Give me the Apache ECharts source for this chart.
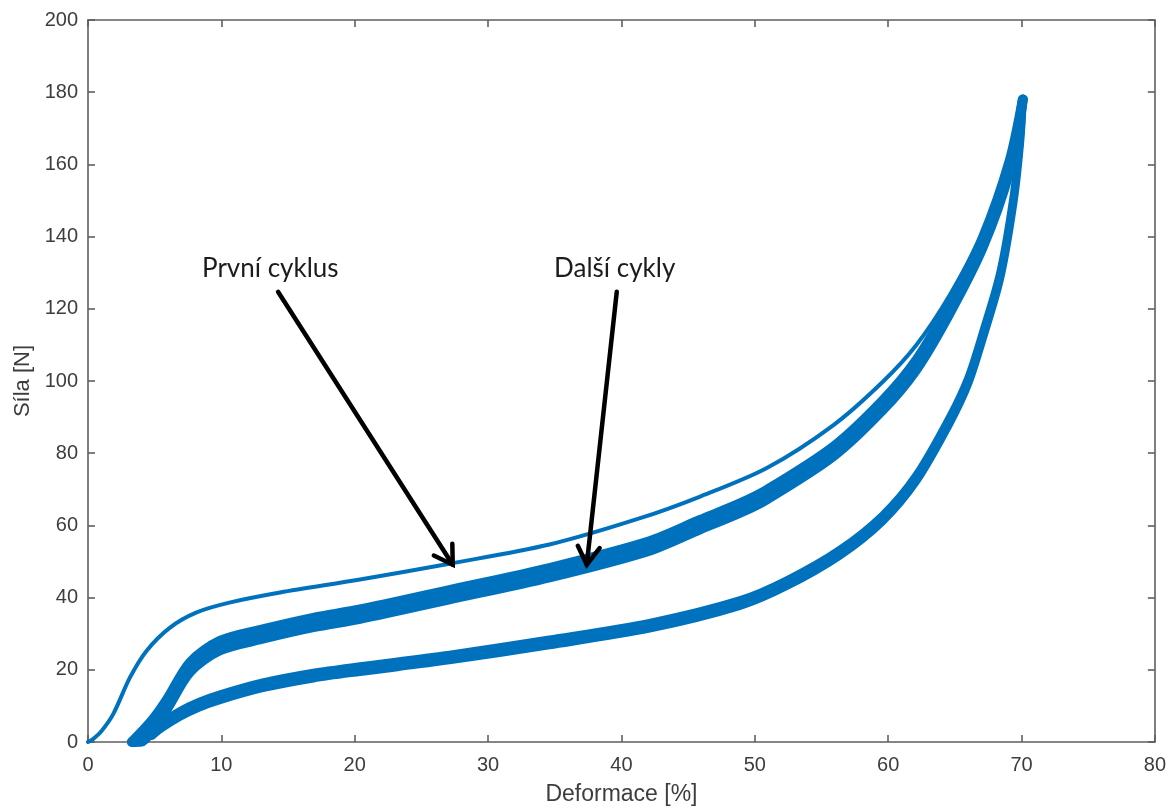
<!DOCTYPE html>
<html>
<head>
<meta charset="utf-8">
<script src="https://cdn.jsdelivr.net/npm/echarts@6/dist/echarts.min.js"></script>
<style>
html,body{margin:0;padding:0;background:#fff;overflow:hidden;}
#chart{width:1169px;height:811px;}
</style>
</head>
<body>
<div id="chart"></div>
<script>
// ---- Data ----
// First loading cycle (První cyklus)
var firstX = [0, 0.3, 1.0, 1.9, 3.15, 4.4, 6.15, 8.15, 10.6, 14.4, 20.4, 27.1, 34.6, 41.4, 45.9, 50.9, 55.9, 59.6, 62.1, 64.6, 67.1, 69.1, 70.1];
var firstY = [0, 0.6, 3, 7.8, 17.9, 25.3, 31.7, 35.9, 38.6, 41.4, 45, 49.4, 54.7, 62, 68, 75.9, 87.8, 99.8, 109.9, 123.7, 141.1, 160.5, 178];

// Further loading cycles (Další cykly) – early and late cycles of the band
var loadX      = [3.3, 4.0, 4.9, 5.95, 7.65, 9.9, 13.1, 16.9, 20.4, 27.1, 34.6, 42.1, 45.9, 48.9, 50.9, 55.9, 59.6, 62.1, 64.6, 67.1, 69.1, 70.1];
var loadEarlyY = [0, 2.7, 6.4, 11.9, 22.0, 28.0, 31.2, 34.4, 36.7, 42.1, 48.2, 55.6, 61.5, 66.1, 69.8, 81.8, 94.6, 105.7, 121.3, 139.7, 160.8, 178];
var loadLateY  = [0, 0.1, 3.8, 9.3, 19.4, 25.4, 28.6, 31.8, 34.1, 39.5, 45.6, 53.0, 58.9, 63.5, 67.2, 79.2, 92.0, 103.1, 118.7, 137.1, 158.2, 178];

// Unloading branch of the cycles
var unloadX      = [4.8, 5.6, 6.9, 8.3, 9.9, 13.1, 16.9, 20.4, 27.1, 34.6, 42.1, 48.9, 52.4, 56.4, 59.6, 62.1, 64.6, 66.0, 67.1, 68.4, 69.4, 69.9, 70.1];
var unloadEarlyY = [3.3, 5.6, 8.6, 11.1, 13.2, 16.5, 19.2, 21.0, 24.2, 28.4, 33.0, 39.3, 44.8, 53.3, 62.8, 73.8, 89.8, 100.8, 113.4, 130.0, 151.1, 167.7, 178];
var unloadLateY  = [1.7, 4.0, 7.0, 9.5, 11.6, 14.9, 17.6, 19.4, 22.6, 26.8, 31.4, 37.7, 43.2, 51.7, 61.2, 72.2, 88.2, 99.2, 111.8, 128.4, 149.5, 166.1, 178];

// Axis ticks
var xTicks = [0, 10, 20, 30, 40, 50, 60, 70, 80];
var yTicks = [0, 20, 40, 60, 80, 100, 120, 140, 160, 180, 200];

// Annotations: label, label anchor, arrow start, arrow tip (data coordinates)
var annoText  = ['První cyklus', 'Další cykly'];
var annoLabel = [[8.55, 131.0], [34.95, 131.0]];
var annoFrom  = [[14.25, 124.7], [39.65, 124.7]];
var annoTo    = [[27.35, 49.1], [37.4, 49.1]];

// ---- Chart ----
var BLUE = '#0072BD';
var AXIS = '#5f5f5f';
var LABEL = '#3d3d3d';
var FONT = '"Liberation Sans", Arial, sans-serif';

function pairs(xs, ys) { return xs.map(function (x, i) { return [x, ys[i]]; }); }

function lineSeries(name, xs, ys, width) {
  return {
    type: 'line', name: name, data: pairs(xs, ys),
    showSymbol: false, smooth: 0.3,
    lineStyle: { color: BLUE, width: width, cap: 'round', join: 'round' },
    itemStyle: { color: BLUE },
    xAxisIndex: 0, yAxisIndex: 0, z: 3, silent: true
  };
}

var chart = echarts.init(document.getElementById('chart'), null, { renderer: 'canvas' });

var axisCommon = {
  type: 'value',
  axisLine: { show: true, onZero: false, lineStyle: { color: AXIS, width: 1.6 } },
  axisTick: { show: true, inside: true, length: 7, lineStyle: { color: AXIS, width: 1.6 } },
  splitLine: { show: false }
};

chart.setOption({
  animation: false,
  backgroundColor: '#ffffff',
  grid: { left: 88, right: 14, top: 20, bottom: 66, containLabel: false },
  xAxis: [
    Object.assign({}, axisCommon, {
      position: 'bottom', min: xTicks[0], max: xTicks[xTicks.length - 1], interval: 10,
      axisLabel: { color: LABEL, fontFamily: FONT, fontSize: 20, margin: 13 },
      name: 'Deformace [%]', nameLocation: 'middle', nameGap: 41,
      nameTextStyle: { color: LABEL, fontFamily: FONT, fontSize: 23 }
    }),
    Object.assign({}, axisCommon, {
      position: 'top', min: xTicks[0], max: xTicks[xTicks.length - 1], interval: 10,
      axisLabel: { show: false }
    })
  ],
  yAxis: [
    Object.assign({}, axisCommon, {
      position: 'left', min: yTicks[0], max: yTicks[yTicks.length - 1], interval: 20,
      axisLabel: { color: LABEL, fontFamily: FONT, fontSize: 20, margin: 10 },
      name: 'Síla [N]', nameLocation: 'middle', nameGap: 52, nameRotate: 90,
      nameTextStyle: { color: LABEL, fontFamily: FONT, fontSize: 22 }
    }),
    Object.assign({}, axisCommon, {
      position: 'right', min: yTicks[0], max: yTicks[yTicks.length - 1], interval: 20,
      axisLabel: { show: false }
    })
  ],
  series: [
    lineSeries('Odlehčení (pozdní)', unloadX, unloadLateY, 8),
    lineSeries('Odlehčení (rané)', unloadX, unloadEarlyY, 8),
    lineSeries('Další cykly (pozdní)', loadX, loadLateY, 10),
    lineSeries('Další cykly (rané)', loadX, loadEarlyY, 10),
    lineSeries('První cyklus', firstX, firstY, 4)
  ]
});

// annotations placed through the chart's own coordinate system
function px(p) { return chart.convertToPixel({ gridIndex: 0 }, p); }
var graphics = [];
for (var i = 0; i < annoText.length; i++) {
  var a = px(annoFrom[i]), b = px(annoTo[i]), l = px(annoLabel[i]);
  var ang = Math.atan2(b[1] - a[1], b[0] - a[0]);
  var head = 21, spread = 0.55;
  var h1 = [b[0] - head * Math.cos(ang - spread), b[1] - head * Math.sin(ang - spread)];
  var h2 = [b[0] - head * Math.cos(ang + spread), b[1] - head * Math.sin(ang + spread)];
  graphics.push({
    type: 'polyline', z: 10, silent: true,
    shape: { points: [a, b] },
    style: { stroke: '#000', lineWidth: 4.5, fill: null, lineCap: 'round' }
  });
  graphics.push({
    type: 'polyline', z: 10, silent: true,
    shape: { points: [h1, b, h2] },
    style: { stroke: '#000', lineWidth: 4.5, fill: null, lineCap: 'round', lineJoin: 'miter' }
  });
  graphics.push({
    type: 'text', z: 10, silent: true,
    x: l[0], y: l[1],
    style: { text: annoText[i], fill: '#1c1c1c', font: '26px Lato, "Open Sans", sans-serif', textAlign: 'left', textVerticalAlign: 'middle' }
  });
}
chart.setOption({ graphic: graphics });
</script>
</body>
</html>
